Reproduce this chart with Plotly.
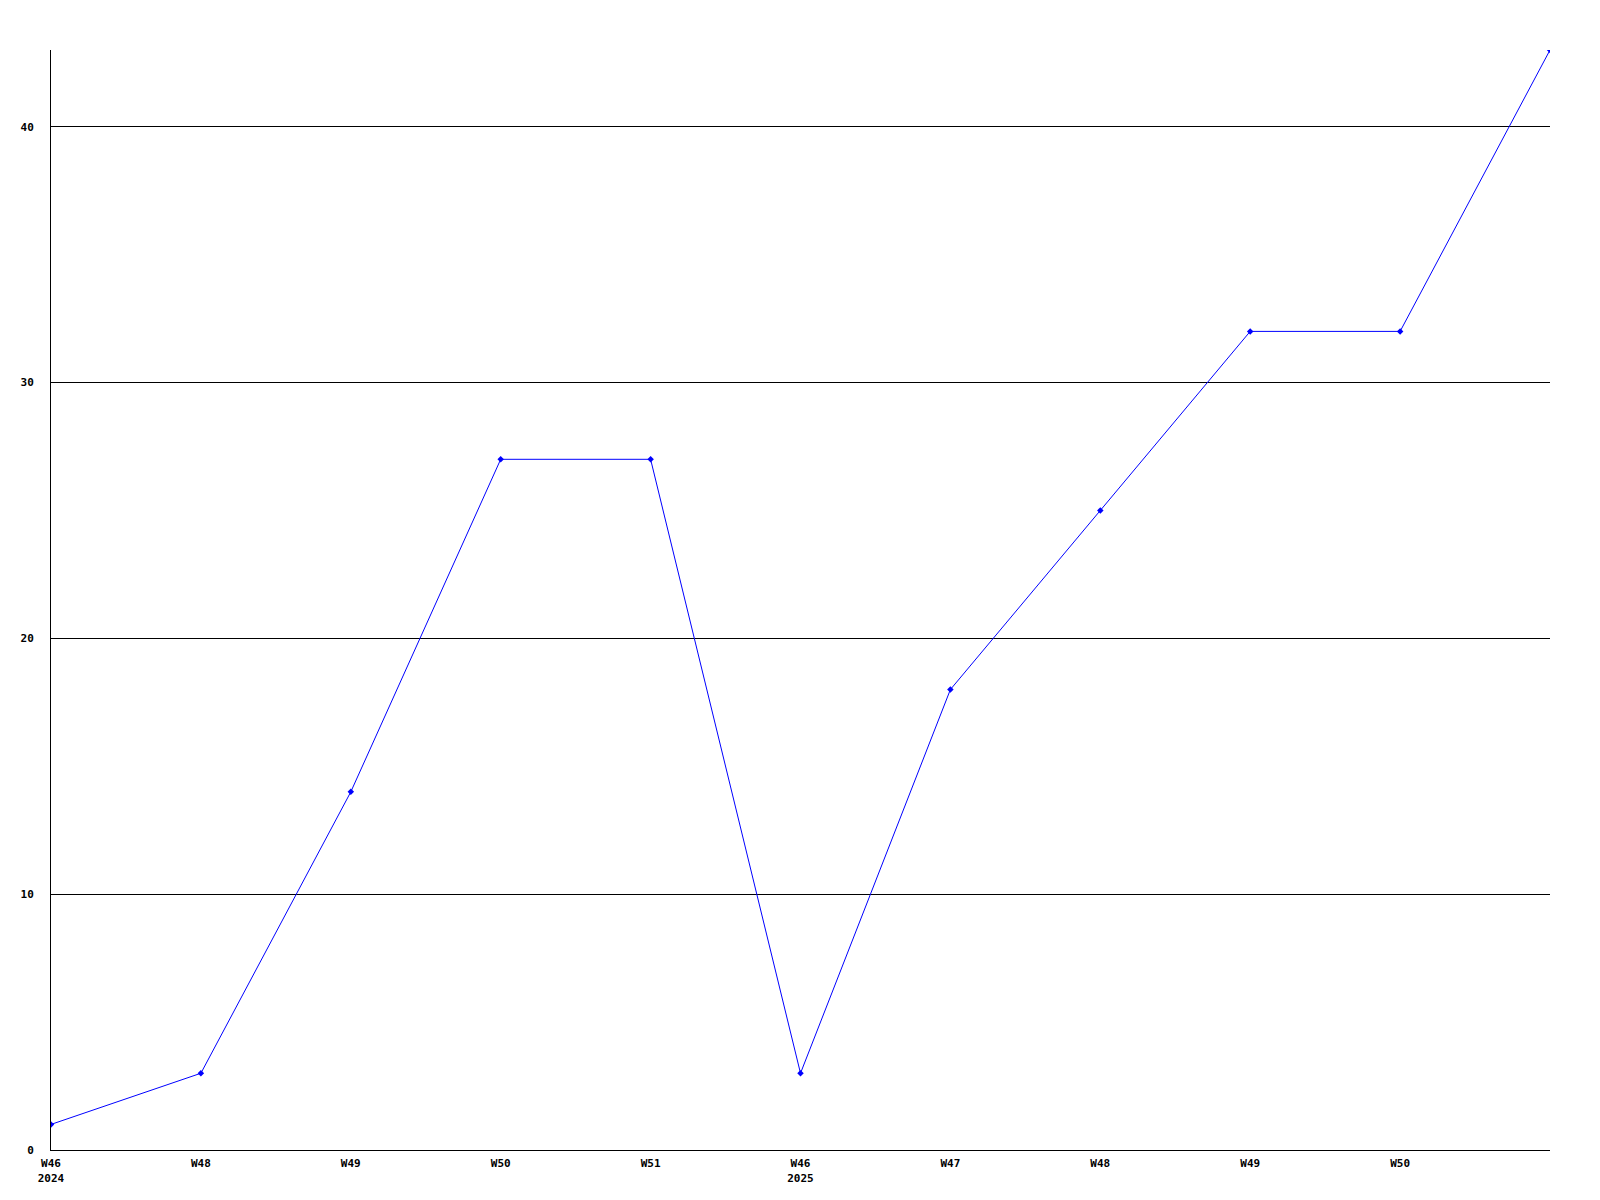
from plotly import graph_objects as go

weeks = ["W46<br>2024", "W48", "W49", "W50", "W51", "W46<br>2025", "W47", "W48", "W49", "W50", ""]
values = [1, 3, 14, 27, 27, 3, 18, 25, 32, 32, 43]
y_ticks = [0, 10, 20, 30, 40]

x_pos = list(range(len(values)))

trace = go.Scatter(x=x_pos, y=values, mode='lines+markers',
                   line=dict(color='#0000ff', width=1),
                   marker=dict(symbol='diamond', size=5, color='#0000ff'),
                   showlegend=False)

# page body keeps its 8px margin, so the figure is 16px smaller than the window
fig = go.Figure(layout=go.Layout(paper_bgcolor='white', plot_bgcolor='white', width=1584, height=1184))
fig.add_trace(trace)

font = dict(family="DejaVu Sans Mono", size=11, color='black', weight='bold')
fig.update_xaxes(range=[0, len(values) - 1], tickvals=x_pos[:-1], ticktext=weeks[:-1],
                 showgrid=False, zeroline=False, showline=True, linecolor='black', linewidth=1,
                 ticks='', tickfont=font, ticklabelstandoff=3, automargin=False)
fig.update_yaxes(range=[0, 43], tickvals=y_ticks, showgrid=True, gridcolor='black', gridwidth=1,
                 zeroline=False, showline=True, linecolor='black', linewidth=1,
                 ticks='', tickfont=font, ticklabelstandoff=14, automargin=False)
fig.update_layout(margin=dict(l=43, r=42, t=42, b=42), font=font)

fig.write_html("out.html")
